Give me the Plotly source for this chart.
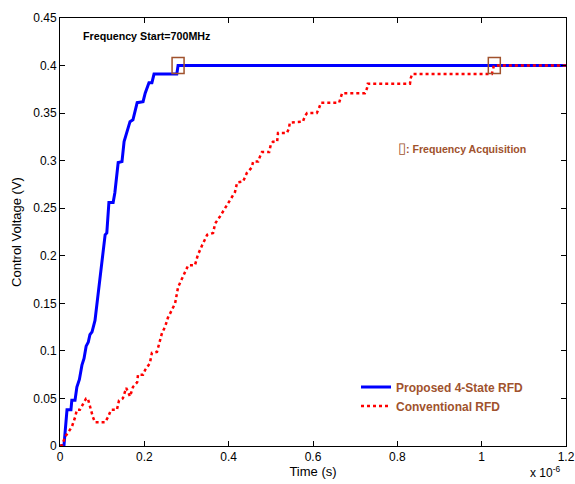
import plotly.graph_objects as go

# Time in units of 1e-6 s, voltage in V
blue_t = [0, 0.0095, 0.0166, 0.026, 0.028, 0.0356, 0.040, 0.046, 0.052, 0.057, 0.062, 0.067, 0.071, 0.076,
          0.083, 0.090, 0.095, 0.102, 0.107, 0.111, 0.116, 0.126, 0.130, 0.138, 0.147, 0.152, 0.159,
          0.166, 0.173, 0.183, 0.197, 0.202, 0.211, 0.218, 0.223, 0.277, 0.280, 1.2]
blue_v = [0, 0.001, 0.038, 0.038, 0.048, 0.048, 0.062, 0.070, 0.085, 0.092, 0.105, 0.109, 0.117, 0.120,
          0.132, 0.157, 0.178, 0.199, 0.222, 0.224, 0.256, 0.256, 0.266, 0.298, 0.299, 0.320, 0.330,
          0.341, 0.343, 0.361, 0.362, 0.371, 0.382, 0.382, 0.391, 0.391, 0.400, 0.400]

red_t = [0, 0.005, 0.012, 0.019, 0.028, 0.036, 0.040, 0.047, 0.055, 0.062, 0.066, 0.071, 0.078, 0.083,
         0.107, 0.114, 0.121, 0.135, 0.140, 0.149, 0.157, 0.166, 0.173, 0.183, 0.185, 0.197, 0.202,
         0.213, 0.218, 0.230, 0.235, 0.242, 0.249, 0.256, 0.263, 0.273, 0.280, 0.292, 0.304, 0.320,
         0.327, 0.337, 0.349, 0.363, 0.368, 0.379, 0.391, 0.403, 0.415, 0.420, 0.434, 0.443, 0.455,
         0.458, 0.470, 0.474, 0.479, 0.496, 0.500, 0.505, 0.515, 0.517, 0.538, 0.543, 0.545, 0.576,
         0.581, 0.586, 0.609, 0.614, 0.619, 0.662, 0.666, 0.669, 0.723, 0.728, 0.730, 0.830, 0.832,
         0.835, 1.024, 1.027, 1.029, 1.2]
red_v = [0, 0.001, 0.0095, 0.0137, 0.020, 0.0305, 0.038, 0.038, 0.045, 0.050, 0.050, 0.041, 0.0305, 0.025,
         0.025, 0.0305, 0.038, 0.038, 0.048, 0.050, 0.061, 0.052, 0.062, 0.067, 0.075, 0.075, 0.080,
         0.087, 0.098, 0.099, 0.108, 0.119, 0.125, 0.135, 0.141, 0.150, 0.167, 0.178, 0.190, 0.190,
         0.201, 0.211, 0.222, 0.224, 0.234, 0.241, 0.250, 0.259, 0.267, 0.277, 0.278, 0.287, 0.293,
         0.299, 0.299, 0.304, 0.309, 0.309, 0.317, 0.320, 0.320, 0.329, 0.329, 0.334, 0.340, 0.341,
         0.347, 0.350, 0.350, 0.355, 0.361, 0.361, 0.367, 0.371, 0.371, 0.376, 0.381, 0.381, 0.387,
         0.391, 0.391, 0.397, 0.400, 0.400]

acq_t = [0.28, 1.03]
acq_v = [0.40, 0.40]

x_ticks = [0, 0.2, 0.4, 0.6, 0.8, 1.0, 1.2]
x_labels = ["0", "0.2", "0.4", "0.6", "0.8", "1", "1.2"]
y_ticks = [0, 0.05, 0.1, 0.15, 0.2, 0.25, 0.3, 0.35, 0.4, 0.45]
y_labels = ["0", "0.05", "0.1", "0.15", "0.2", "0.25", "0.3", "0.35", "0.4", "0.45"]

BROWN = "#A0522D"
FONT = "Liberation Sans, Arial, sans-serif"

fig = go.Figure()
fig.add_trace(go.Scatter(x=blue_t, y=blue_v, mode="lines", name="Proposed 4-State RFD",
                         line=dict(color="#0000FF", width=3)))
fig.add_trace(go.Scatter(x=red_t, y=red_v, mode="lines", name="Conventional RFD",
                         line=dict(color="#FF0000", width=2.5, dash="dot")))

for tx, vy in zip(acq_t, acq_v):
    fig.add_shape(type="rect", xref="x", yref="y", xsizemode="pixel", ysizemode="pixel",
                  xanchor=tx, yanchor=vy, x0=-6, x1=6, y0=-8, y1=8,
                  line=dict(color=BROWN, width=1.5), fillcolor="rgba(0,0,0,0)")

fig.add_annotation(x=0.05, y=0.431, xref="x", yref="y", text="<b>Frequency Start=700MHz</b>",
                   showarrow=False, xanchor="left", yanchor="middle",
                   font=dict(family=FONT, size=10.7, color="black"))
fig.add_annotation(x=0.797, y=0.314, xref="x", yref="y",
                   text="<span style='font-size:15px;font-weight:normal'>▯</span><b>: Frequency Acquisition</b>",
                   showarrow=False, xanchor="left", yanchor="middle",
                   font=dict(family=FONT, size=10.6, color=BROWN))
fig.add_annotation(x=1.0, y=0, xref="paper", yref="paper", yshift=-36, xshift=-4,
                   text="x 10<sup>-6</sup>", showarrow=False, xanchor="right", yanchor="bottom",
                   font=dict(family=FONT, size=12, color="black"))

axis_common = dict(showgrid=False, zeroline=False, showline=True, linecolor="black", linewidth=1,
                   mirror="ticks", ticks="inside", ticklen=5, tickcolor="black", automargin=False,
                   tickfont=dict(family=FONT, size=12, color="black"))

fig.update_layout(
    width=575, height=484,
    margin=dict(l=60, r=9, t=18, b=38),
    paper_bgcolor="white", plot_bgcolor="white",
    font=dict(family=FONT, size=12, color="black"),
    xaxis=dict(range=[0, 1.2], tickvals=x_ticks, ticktext=x_labels,
               title=dict(text="Time (s)", standoff=1, font=dict(size=13)), **axis_common),
    yaxis=dict(range=[0, 0.45], tickvals=y_ticks, ticktext=y_labels,
               title=dict(text="Control Voltage (V)", standoff=8, font=dict(size=13)), **axis_common),
    showlegend=True,
    legend=dict(x=0.585, y=0.172, xanchor="left", yanchor="top", bgcolor="rgba(0,0,0,0)",
                font=dict(family=FONT, size=12, color=BROWN, weight="bold"),
                tracegroupgap=0, itemwidth=30),
)

fig.write_html("out.html", post_script="document.body.style.margin='0';",
               config={"displayModeBar": False})
